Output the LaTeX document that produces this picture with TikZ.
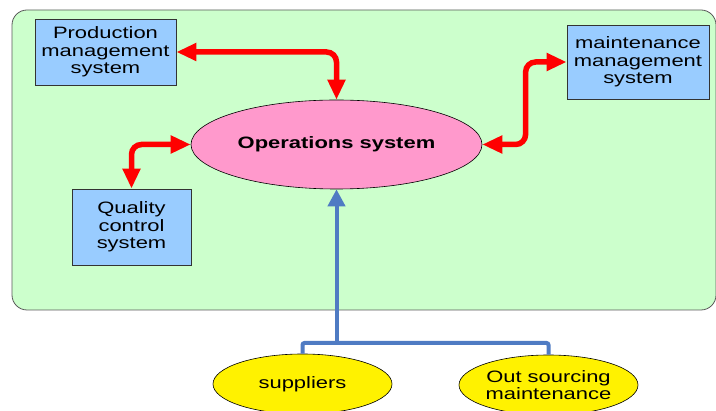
\documentclass[tikz,border=0pt]{standalone}
\usepackage{fontspec}
\setmainfont{Liberation Sans}[FakeStretch=1.33]
\usetikzlibrary{arrows.meta,shapes.geometric}
\definecolor{panelgreen}{HTML}{CCFFCC}
\definecolor{boxblue}{HTML}{99CCFF}
\definecolor{opspink}{HTML}{FF99CC}
\definecolor{linkblue}{HTML}{4F7BC3}
\tikzset{
  txt/.style={font=\fontsize{16.5}{17.5}\selectfont, align=center, text=black, inner sep=0pt},
  sysbox/.style={txt, rectangle, draw=black!80, line width=0.8pt, fill=boxblue},
  oval/.style={txt, ellipse, draw=black, line width=0.6pt},
  redlink/.style={draw=red, line width=5.5pt, rounded corners=10pt,
    {Triangle[length=20pt,width=17pt]}-{Triangle[length=20pt,width=17pt]}},
  bluelink/.style={draw=linkblue, line width=4pt, rounded corners=2pt},
}
\begin{document}
\begin{tikzpicture}[x=1pt,y=-1pt]
  \useasboundingbox (0,0) rectangle (716,411);
  % panel holding the internal systems
  \node[draw=black!65, line width=0.8pt, fill=panelgreen, rounded corners=15pt,
        minimum width=704pt, minimum height=300pt, inner sep=0pt] (panel) at (364,160) {};
  % systems
  \node[sysbox, minimum width=141pt, minimum height=66pt] (prod) at (105.5,52) {Production\\management\\system};
  \node[sysbox, minimum width=142pt, minimum height=74pt] (maint) at (638,62) {maintenance\\management\\system};
  \node[sysbox, minimum width=119pt, minimum height=76pt] (qual) at (131.5,227) {Quality\\control\\system};
  \node[oval, fill=opspink, minimum width=291pt, minimum height=89pt] (ops) at (336.5,144.5) {\textbf{Operations system}};
  % external sources
  \node[oval, fill=yellow, minimum width=179pt, minimum height=60pt] (sup) at (302.5,384) {suppliers};
  \node[oval, fill=yellow, minimum width=179pt, minimum height=60pt] (out) at (548.5,385) {Out sourcing\\maintenance};
  % two-way links to the operations system
  \draw[redlink] (prod.east) -| (ops.north);
  \draw[redlink] (ops.west) -| (qual.north);
  \draw[redlink] (maint.west) -- ++(-41,0) |- (ops.east);
  % inputs from outside
  \coordinate (join) at (336.5,343);
  \draw[bluelink] (sup.north) |- (join) -| (out.north);
  \draw[draw=linkblue, line width=4pt, -{Triangle[length=17pt,width=17pt]}] (join) -- (ops.south);
\end{tikzpicture}
\end{document}
